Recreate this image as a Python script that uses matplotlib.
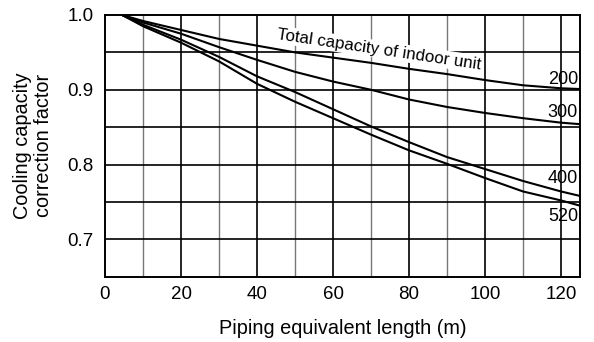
import matplotlib
matplotlib.use("Agg")
import matplotlib.pyplot as plt

plt.rcParams['font.family'] = ['Liberation Sans', 'DejaVu Sans']

length = [4.5, 10, 20, 30, 40, 50, 60, 70, 80, 90, 100, 110, 120, 125]
cap_200 = [1.0, 0.992, 0.980, 0.968, 0.959, 0.950, 0.943, 0.936, 0.928, 0.921, 0.913, 0.906, 0.902, 0.901]
cap_300 = [1.0, 0.990, 0.975, 0.957, 0.940, 0.924, 0.911, 0.900, 0.887, 0.877, 0.869, 0.862, 0.856, 0.854]
cap_400 = [1.0, 0.987, 0.967, 0.944, 0.918, 0.897, 0.874, 0.851, 0.830, 0.810, 0.794, 0.778, 0.764, 0.758]
cap_520 = [1.0, 0.985, 0.963, 0.938, 0.908, 0.884, 0.862, 0.840, 0.819, 0.801, 0.782, 0.764, 0.752, 0.745]

series = [("200", cap_200, 0.914), ("300", cap_300, 0.870),
          ("400", cap_400, 0.782), ("520", cap_520, 0.730)]

x_ticks = [0, 20, 40, 60, 80, 100, 120]
y_ticks = [0.7, 0.8, 0.9, 1.0]
y_ticklabels = ["0.7", "0.8", "0.9", "1.0"]

fig = plt.figure(figsize=(5.94, 3.42), dpi=100)
ax = fig.add_axes([105/594, 1 - 276.7/342, 475/594, 261.7/342])

ax.set_xlim(0, 125)
ax.set_ylim(0.65, 1.0)

# grid
for xv in range(10, 125, 10):
    if xv % 20 == 0:
        ax.axvline(xv, color='black', lw=1.2, zorder=1)
    else:
        ax.axvline(xv, color='#777777', lw=1.0, zorder=1)
for k in range(1, 7):
    yv = 0.65 + 0.05 * k
    ax.axhline(yv, color='black', lw=1.2, zorder=1)

for name, vals, ly in series:
    ax.plot(length, vals, color='black', lw=1.5, zorder=3, solid_capstyle='butt')
    ax.text(120.5, ly, name, ha='center', va='center', fontsize=13, color='black', zorder=4)

ax.text(72.0, 0.954, "Total capacity of indoor unit", rotation=-8.5, rotation_mode='anchor',
        ha='center', va='center', fontsize=12.2, color='black', zorder=2,
        bbox=dict(facecolor='white', edgecolor='none', pad=1.0))

ax.set_xticks(x_ticks)
ax.set_yticks(y_ticks)
ax.set_yticklabels(y_ticklabels)
ax.tick_params(axis='both', length=0, labelsize=13.5, colors='black')
ax.tick_params(axis='x', pad=7)
ax.tick_params(axis='y', pad=8.4)

for s in ax.spines.values():
    s.set_linewidth(1.4)
    s.set_color('black')
    s.set_zorder(5)

ax.set_xlabel("Piping equivalent length (m)", fontsize=14.3)
ax.set_ylabel("Cooling capacity\ncorrection factor", fontsize=14.3, linespacing=1.1)
ax.xaxis.set_label_coords(0.5, -0.16)
ax.yaxis.set_label_coords(-0.152, 0.5)
ax.yaxis.label.set_verticalalignment('center')

fig.savefig("out.png", dpi=100)
